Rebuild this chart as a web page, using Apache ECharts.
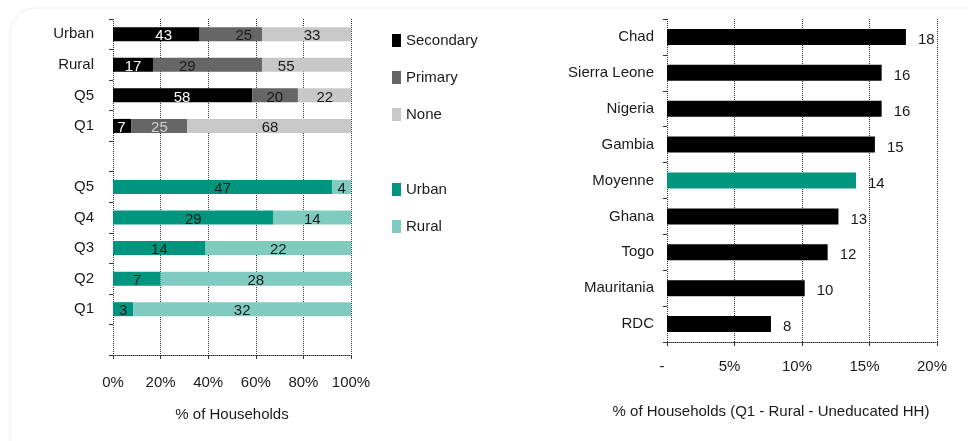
<!DOCTYPE html>
<html>
<head>
<meta charset="utf-8">
<script src="https://cdn.jsdelivr.net/npm/echarts@6/dist/echarts.min.js"></script>
<style>
  html, body { margin: 0; padding: 0; background: #fff; }
  #main { width: 968px; height: 441px; }
</style>
</head>
<body>
<div id="main"></div>
<script>
// left chart rows (top to bottom), blank rows are spacers
var leftCats = ["Urban", "Rural", "Q5", "Q1", "", "Q5", "Q4", "Q3", "Q2", "Q1", ""];

// education of household head: bar shares as drawn (%)
var barSecondary = [36.4, 16.8, 58.5, 7.6];
var barPrimary = [26.2, 45.8, 19.2, 23.5];
var barNone = [37.4, 37.4, 22.3, 68.9];
// printed labels
var lblSecondary = [43, 17, 58, 7];
var lblPrimary = [25, 29, 20, 25];
var lblNone = [33, 55, 22, 68];

// residence by quintile Q5..Q1
var urbanVals = [47, 29, 14, 7, 3];
var ruralVals = [4, 14, 22, 28, 32];

// right chart
var countries = ["Chad", "Sierra Leone", "Nigeria", "Gambia", "Moyenne", "Ghana", "Togo", "Mauritania", "RDC"];
var countryVals = [17.7, 15.9, 15.9, 15.4, 14.0, 12.7, 11.9, 10.2, 7.7];

var leftTicks = [0, 20, 40, 60, 80, 100];
var rightTicks = [0, 5, 10, 15, 20];

var FONT = "Liberation Sans";
var TXT = "#1a1a1a";
var C_SEC = "#000000", C_PRI = "#666666", C_NONE = "#c8c8c8";
var C_URB = "#00957f", C_RUR = "#80cbbf";

// place an array into the 11 row slots starting at offset
function pad(arr, offset) {
  var out = [];
  for (var i = 0; i < leftCats.length; i++) out.push(null);
  arr.forEach(function (v, i) { out[offset + i] = v; });
  return out;
}

// label positions: share of the printed total
var lblTotals = lblSecondary.map(function (v, i) { return v + lblPrimary[i] + lblNone[i]; });
function lblShare(arr) {
  return arr.map(function (v, i) { return v / lblTotals[i] * 100; });
}
var locTotals = urbanVals.map(function (v, i) { return v + ruralVals[i]; });
function locShare(arr) {
  return arr.map(function (v, i) { return v / locTotals[i] * 100; });
}

function labelSeries(name, arr, color) {
  var shares = lblShare(arr);
  var data = pad(shares, 0).map(function (v, i) {
    if (v == null) return null;
    var d = { value: v };
    // Q1 primary label is drawn light
    if (name === "lbl-pri" && i === 3) d.label = { color: "#d0d0d0" };
    return d;
  });
  return {
    name: name, type: "bar", stack: "lbl", barWidth: 14, barGap: "-100%",
    xAxisIndex: 0, yAxisIndex: 0, silent: true,
    itemStyle: { color: "rgba(0,0,0,0)" },
    label: {
      show: true, position: "inside", offset: [0, 2],
      fontFamily: FONT, fontSize: 15, color: color,
      formatter: function (p) { return arr[p.dataIndex]; }
    },
    data: data
  };
}

var myChart = echarts.init(document.getElementById("main"));

myChart.setOption({
  animation: false,
  textStyle: { fontFamily: FONT, color: TXT },
  graphic: [{
    type: "rect", silent: true, z: -10,
    shape: { x: 10, y: 8, width: 1000, height: 470, r: 26 },
    style: { fill: "none", stroke: "#ededed", lineWidth: 1 }
  }],
  legend: [
    {
      data: ["Secondary", "Primary", "None"],
      orient: "vertical", left: 387, top: 28,
      icon: "rect", itemWidth: 9, itemHeight: 13, itemGap: 22,
      textStyle: { fontFamily: FONT, fontSize: 15, color: TXT },
      selectedMode: false
    },
    {
      data: ["Urban", "Rural"],
      orient: "vertical", left: 387, top: 177,
      icon: "rect", itemWidth: 9, itemHeight: 13, itemGap: 22,
      textStyle: { fontFamily: FONT, fontSize: 15, color: TXT },
      selectedMode: false
    }
  ],
  grid: [
    { left: 113, right: 617, top: 19, bottom: 86 },
    { left: 667, right: 31, top: 19, bottom: 99 }
  ],
  xAxis: [
    {
      gridIndex: 0, type: "value", min: 0, max: 100, interval: 20,
      name: "% of Households", nameLocation: "middle", nameGap: 52,
      nameTextStyle: { fontFamily: FONT, fontSize: 15, color: TXT },
      axisLine: { show: true, lineStyle: { color: "#333", type: "dotted" } },
      axisTick: { show: true, length: 4, lineStyle: { color: "#333" } },
      axisLabel: {
        margin: 20, fontFamily: FONT, fontSize: 15, color: TXT,
        formatter: function (v) { return leftTicks.indexOf(v) >= 0 ? v + "%" : ""; }
      },
      splitLine: { show: true, lineStyle: { color: "#333", type: "dotted" } }
    },
    {
      gridIndex: 1, type: "value", min: 0, max: 20, interval: 5,
      name: "% of Households (Q1 - Rural - Uneducated HH)", nameLocation: "middle", nameGap: 62,
      nameTextStyle: { fontFamily: FONT, fontSize: 15, color: TXT, padding: [0, 62, 0, 0] },
      axisLine: { show: true, lineStyle: { color: "#333", type: "dotted" } },
      axisTick: { show: true, length: 4, lineStyle: { color: "#333" } },
      axisLabel: {
        margin: 17, fontFamily: FONT, fontSize: 15, color: TXT, padding: [0, 10, 0, 0],
        formatter: function (v) { return v === 0 ? "-" : (rightTicks.indexOf(v) >= 0 ? v + "%" : ""); }
      },
      splitLine: { show: true, lineStyle: { color: "#333", type: "dotted" } }
    }
  ],
  yAxis: [
    {
      gridIndex: 0, type: "category", inverse: true, data: leftCats,
      axisLine: { show: false },
      axisTick: { show: true, length: 4, lineStyle: { color: "#333" } },
      axisLabel: { margin: 19, fontFamily: FONT, fontSize: 15, color: TXT },
      splitLine: { show: false }
    },
    {
      gridIndex: 1, type: "category", inverse: true, data: countries,
      axisLine: { show: false },
      axisTick: { show: true, length: 4, lineStyle: { color: "#333" } },
      axisLabel: { margin: 13, fontFamily: FONT, fontSize: 15, color: TXT },
      splitLine: { show: false }
    }
  ],
  series: [
    {
      name: "Secondary", type: "bar", stack: "edu", barWidth: 14, barGap: "-100%",
      xAxisIndex: 0, yAxisIndex: 0, itemStyle: { color: C_SEC },
      data: pad(barSecondary, 0)
    },
    {
      name: "Primary", type: "bar", stack: "edu", barWidth: 14, barGap: "-100%",
      xAxisIndex: 0, yAxisIndex: 0, itemStyle: { color: C_PRI },
      data: pad(barPrimary, 0)
    },
    {
      name: "None", type: "bar", stack: "edu", barWidth: 14, barGap: "-100%",
      xAxisIndex: 0, yAxisIndex: 0, itemStyle: { color: C_NONE },
      data: pad(barNone, 0)
    },
    labelSeries("lbl-sec", lblSecondary, "#ffffff"),
    labelSeries("lbl-pri", lblPrimary, TXT),
    labelSeries("lbl-none", lblNone, TXT),
    {
      name: "Urban", type: "bar", stack: "loc", barWidth: 14, barGap: "-100%",
      xAxisIndex: 0, yAxisIndex: 0, itemStyle: { color: C_URB },
      label: {
        show: true, position: "inside", offset: [0, 2],
        fontFamily: FONT, fontSize: 15, color: TXT,
        formatter: function (p) { return urbanVals[p.dataIndex - 5]; }
      },
      data: pad(locShare(urbanVals), 5)
    },
    {
      name: "Rural", type: "bar", stack: "loc", barWidth: 14, barGap: "-100%",
      xAxisIndex: 0, yAxisIndex: 0, itemStyle: { color: C_RUR },
      label: {
        show: true, position: "inside", offset: [0, 2],
        fontFamily: FONT, fontSize: 15, color: TXT,
        formatter: function (p) { return ruralVals[p.dataIndex - 5]; }
      },
      data: pad(locShare(ruralVals), 5)
    },
    {
      name: "Countries", type: "bar", barWidth: 16,
      xAxisIndex: 1, yAxisIndex: 1,
      itemStyle: {
        color: function (p) { return countries[p.dataIndex] === "Moyenne" ? C_URB : "#000"; }
      },
      label: {
        show: true, position: "right", distance: 12, offset: [0, 3],
        fontFamily: FONT, fontSize: 15, color: TXT,
        formatter: function (p) { return Math.round(p.value); }
      },
      data: countryVals
    }
  ]
});

myChart.resize();
</script>
</body>
</html>
